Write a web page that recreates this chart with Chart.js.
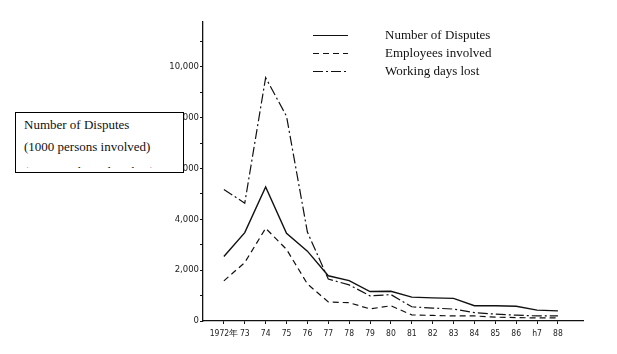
<!DOCTYPE html>
<html><head><meta charset="utf-8">
<script src="https://cdn.jsdelivr.net/npm/chart.js@4/dist/chart.umd.min.js"></script>
<style>
html,body{margin:0;padding:0;background:#fff;}
#wrap{position:relative;width:617px;height:354px;overflow:hidden;}
canvas{position:absolute;left:0;top:0;}
#box{position:absolute;left:15px;top:112px;width:167px;height:59px;border:1px solid #000;background:#fff;overflow:hidden;font-family:"Liberation Serif","DejaVu Serif",serif;font-size:13px;color:#111;}
#box .ln{position:absolute;left:8px;white-space:nowrap;}
#clip3{position:absolute;left:8px;top:53px;height:2px;width:150px;overflow:hidden;}
#clip3 span{position:absolute;left:0;top:-2px;line-height:15px;white-space:nowrap;}
</style>
</head><body>
<div id="wrap">
<canvas id="c" width="617" height="354"></canvas>
<div id="box">
<div class="ln" style="top:4px">Number of Disputes</div>
<div class="ln" style="top:26px">(1000 persons involved)</div>
<div id="clip3"><span>(1000 working days lost)</span></div>
</div>
</div>
<script>
const years = [1972,1973,1974,1975,1976,1977,1978,1979,1980,1981,1982,1983,1984,1985,1986,1987,1988];
const yearLabels = ['1972年','73','74','75','76','77','78','79','80','81','82','83','84','85','86','h7','88'];
const disputes = [2540,3480,5280,3450,2750,1780,1590,1160,1170,940,910,890,600,600,580,430,400];
const employees = [1580,2300,3650,2820,1460,750,720,475,600,240,220,200,200,150,135,120,120];
const workingDays = [5180,4640,9580,8060,3500,1650,1420,990,1040,560,510,470,330,270,230,200,200];
const seriesNames = ['Number of Disputes','Employees involved','Working days lost'];
const yTickValues = [0,1000,2000,3000,4000,5000,6000,7000,8000,9000,10000,11000];

const pts = arr => arr.map((v,i)=>({x:years[i], y:v}));

const legendPlugin = {
  id:'customLegend',
  afterDraw(chart){
    const ctx = chart.ctx;
    const rows = [36,54,72];
    ctx.save();
    chart.data.datasets.forEach((ds,i)=>{
      ctx.beginPath();
      ctx.setLineDash(ds.borderDash||[]);
      ctx.strokeStyle = '#111';
      ctx.lineWidth = 1.2;
      ctx.moveTo(313, rows[i]-0.5); ctx.lineTo(348, rows[i]-0.5);
      ctx.stroke();
      ctx.setLineDash([]);
      ctx.fillStyle = '#111';
      ctx.font = '13px "Liberation Serif", "DejaVu Serif", serif';
      ctx.textBaseline = 'middle';
      ctx.fillText(ds.label, 385, rows[i]);
    });
    ctx.restore();
  }
};

new Chart(document.getElementById('c'), {
  type:'line',
  data:{
    datasets:[
      {label:seriesNames[0], data:pts(disputes), borderColor:'#111', borderWidth:1.4, pointRadius:0, tension:0, fill:false},
      {label:seriesNames[1], data:pts(employees), borderColor:'#111', borderWidth:1.2, borderDash:[6,4], pointRadius:0, tension:0, fill:false},
      {label:seriesNames[2], data:pts(workingDays), borderColor:'#111', borderWidth:1.2, borderDash:[10,3,2,3], pointRadius:0, tension:0, fill:false}
    ]
  },
  options:{
    responsive:false, maintainAspectRatio:false, animation:false,
    layout:{padding:{left:0,right:34,top:22,bottom:0}},
    plugins:{legend:{display:false}, tooltip:{enabled:false}},
    scales:{
      x:{
        type:'linear', min:1971, max:1989.2,
        afterBuildTicks(s){ s.ticks = years.map(v=>({value:v})); },
        afterFit(s){ s.height = 33; },
        border:{display:true,color:'#111',width:1.3},
        grid:{display:true, drawOnChartArea:false, drawTicks:true, tickLength:3, color:'#111'},
        ticks:{autoSkip:false, maxRotation:0, minRotation:0, padding:5, color:'#222',
          font:{family:'"DejaVu Sans Condensed","Liberation Sans Narrow",sans-serif', size:8.5},
          callback(v){ const i = years.indexOf(v); return i>=0 ? yearLabels[i] : ''; }}
      },
      y:{
        min:0, max:11770,
        afterBuildTicks(s){ s.ticks = yTickValues.map(v=>({value:v})); },
        afterFit(s){ s.width = 203; },
        border:{display:true,color:'#111',width:1.3},
        grid:{display:true, drawOnChartArea:false, drawTicks:true, tickLength:3, color:'#111'},
        ticks:{autoSkip:false, padding:1, color:'#222',
          font:{family:'"DejaVu Sans","Liberation Sans",sans-serif', size:8.5},
          callback(v){ return v%2000===0 ? v.toLocaleString('en-US') : ''; }}
      }
    }
  },
  plugins:[legendPlugin]
});
</script>
</body></html>
